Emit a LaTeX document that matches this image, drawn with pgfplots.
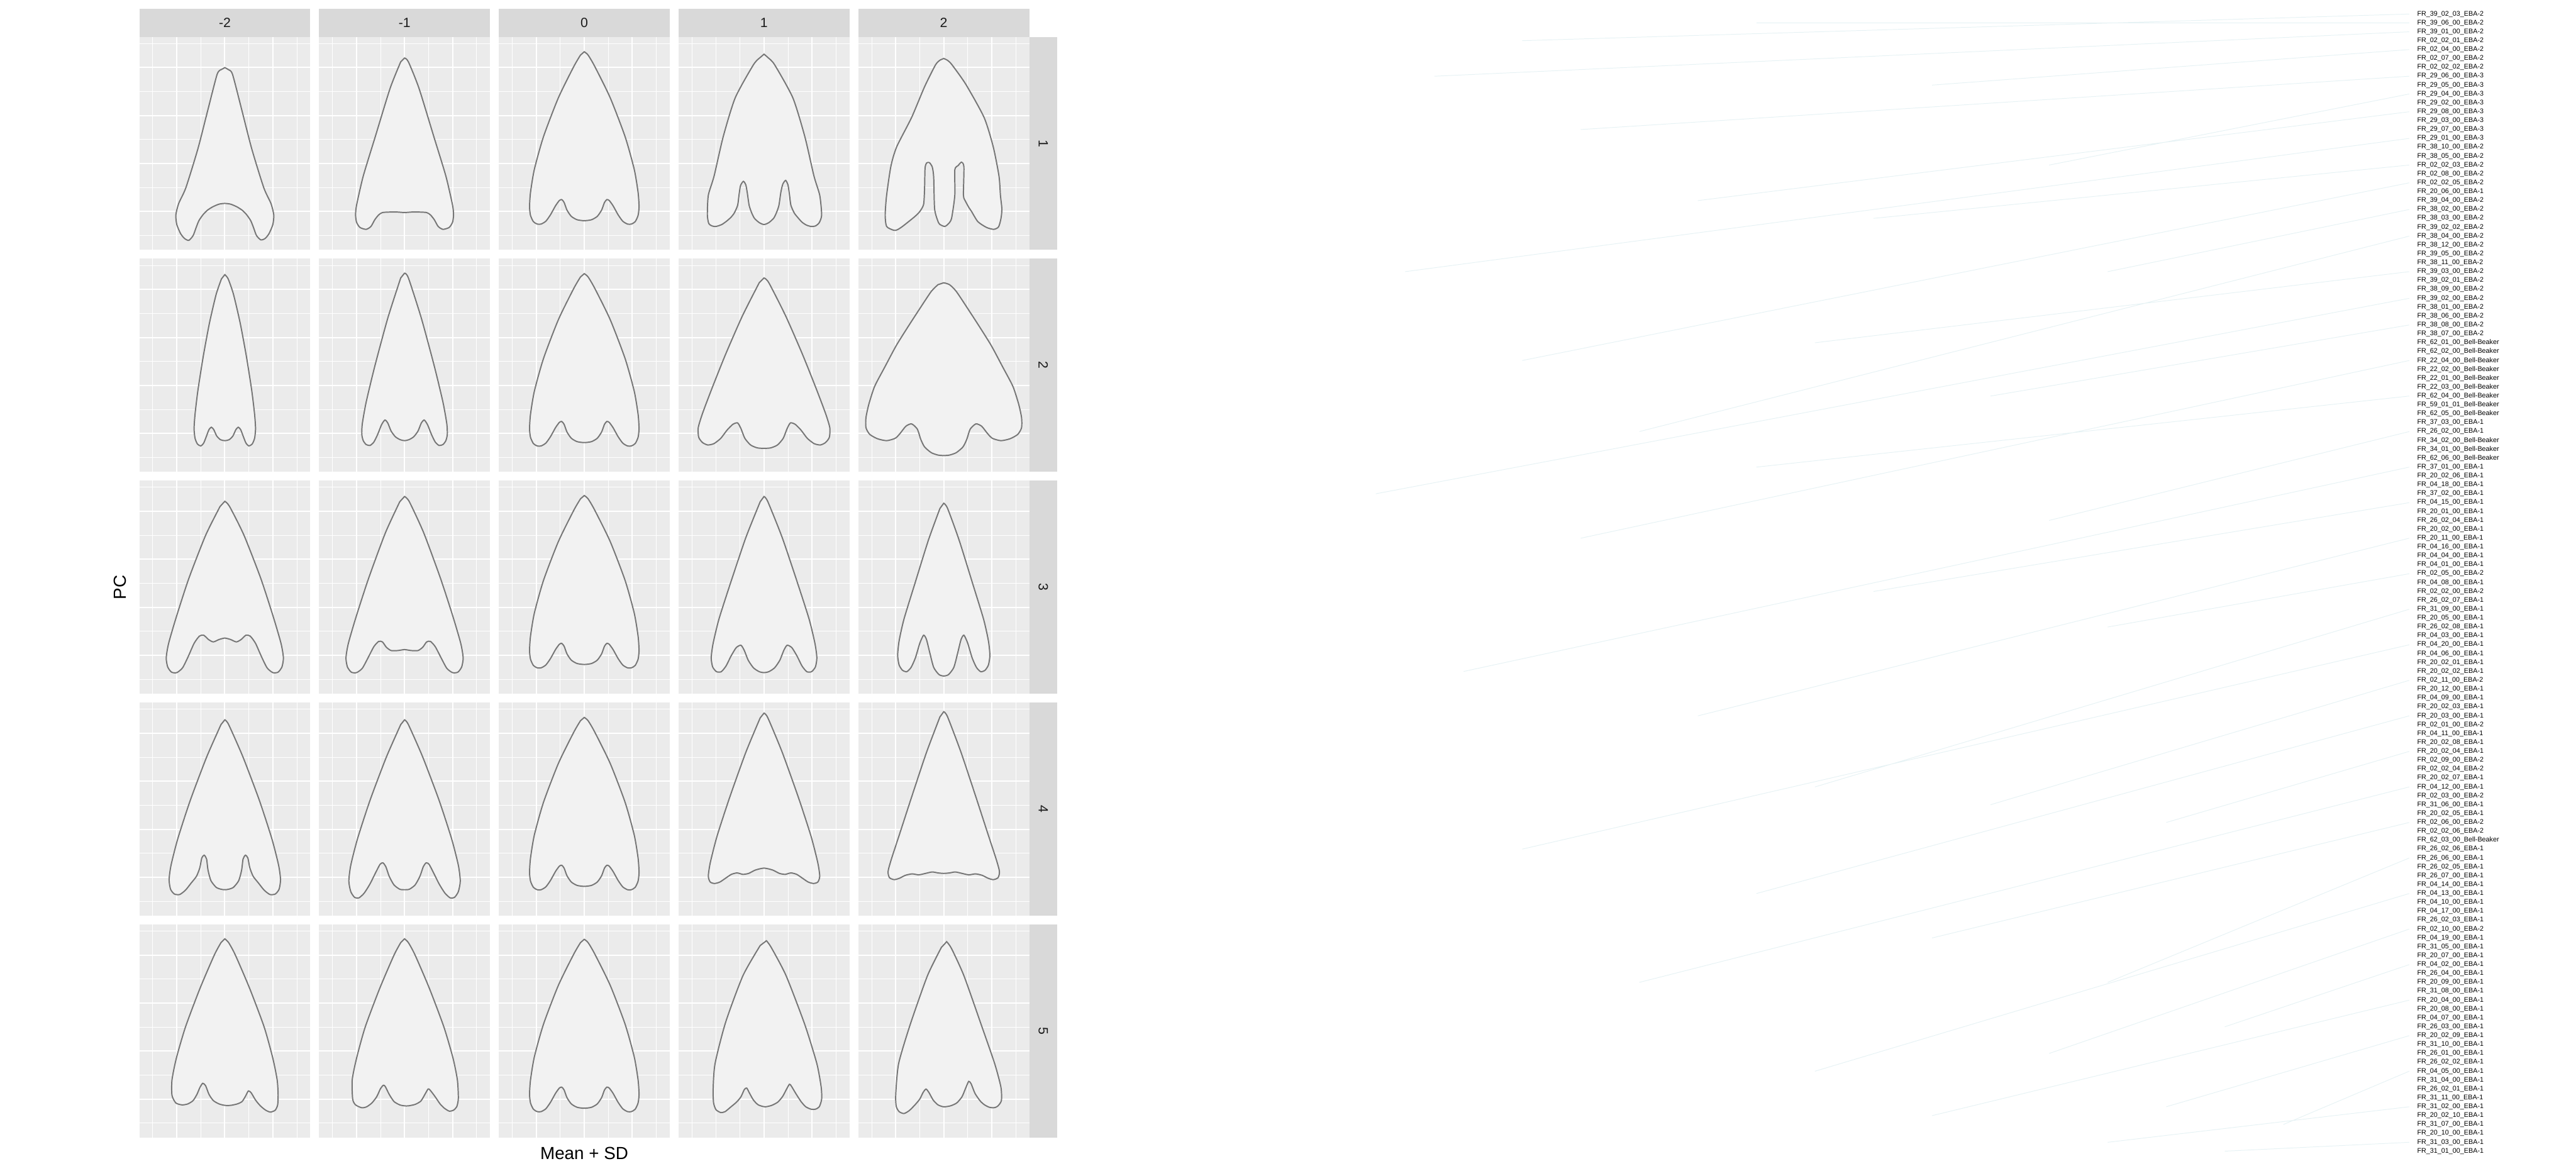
\documentclass[border=0pt]{standalone}
\usepackage{fontspec}
\setmainfont{Liberation Sans}
\usepackage{pgfplots}
\pgfplotsset{compat=1.18}
\definecolor{panelbg}{HTML}{EBEBEB}
\definecolor{stripbg}{HTML}{D9D9D9}
\definecolor{striptx}{HTML}{1A1A1A}
\definecolor{shpfill}{HTML}{F2F2F2}
\definecolor{shpline}{HTML}{767676}
\definecolor{faint}{RGB}{230,242,244}
\pgfplotsset{
 panel/.style={anchor=north west, width=29.2mm, height=36.4mm, scale only axis,
  xmin=-1.78, xmax=1.78, ymin=-0.80, ymax=3.64,
  xtick={-1,0,1}, ytick={0,1,2,3},
  minor xtick={-1.5,-0.5,0.5,1.5}, minor ytick={-0.5,0.5,1.5,2.5,3.5},
  xticklabels={}, yticklabels={},
  major tick length=0pt, minor tick length=0pt,
  grid=both,
  major grid style={draw=white, line width=0.6pt},
  minor grid style={draw=white, line width=0.3pt},
  axis line style={draw=none},
  axis background/.style={fill=panelbg}},
 shp/.style={draw=shpline, fill=shpfill, line width=0.6pt, smooth, tension=0.4, mark=none}
}
\newcommand{\shp}[1]{\addplot[shp] coordinates {#1} -- cycle;}
\newcommand{\panel}[3]{\begin{axis}[panel, at={(#1mm,#2mm)}]#3\end{axis}}
\newcommand{\meanplot}{\shp{(0,3.33) (0.08,3.26) (0.22,3.02) (0.54,2.37) (0.85,1.56) (1.04,0.88) (1.12,0.40) (1.14,0.10) (1.12,-0.08) (1.06,-0.21) (0.98,-0.26) (0.90,-0.26) (0.80,-0.20) (0.70,-0.06) (0.60,0.12) (0.52,0.23) (0.47,0.25) (0.42,0.19) (0.36,0.03) (0.27,-0.10) (0.15,-0.17) (0,-0.19)
 (-0.15,-0.17) (-0.27,-0.10) (-0.36,0.03) (-0.42,0.19) (-0.47,0.25) (-0.52,0.23) (-0.60,0.12) (-0.70,-0.06) (-0.80,-0.20) (-0.90,-0.26) (-0.98,-0.26) (-1.06,-0.21) (-1.12,-0.08) (-1.14,0.10) (-1.12,0.40) (-1.04,0.88) (-0.85,1.56) (-0.54,2.37) (-0.22,3.02) (-0.08,3.26)}}
\begin{document}
\begin{tikzpicture}
\useasboundingbox (0,0) rectangle (440mm,200mm);
% ---------- strips ----------
\foreach \x/\t in {23.8/-2,54.5/-1,85.2/0,115.9/1,146.6/2}{
 \fill[stripbg] (\x mm,193.7mm) rectangle ++(29.2mm,4.8mm);
 \node[text=striptx, font=\fontsize{6.5}{7}\selectfont] at (\x mm+14.6mm,196.1mm) {\t};}
\foreach \y/\t in {193.7/1,155.8/2,117.9/3,80.0/4,42.1/5}{
 \fill[stripbg] (175.8mm,\y mm-36.4mm) rectangle (180.6mm,\y mm);
 \node[text=striptx, rotate=-90, font=\fontsize{6.5}{7}\selectfont] at (178.2mm,\y mm-18.2mm) {\t};}
\node[font=\fontsize{8.5}{10}\selectfont] at (99.8mm,3.0mm) {Mean + SD};
\node[rotate=90, font=\fontsize{8.5}{10}\selectfont] at (20.5mm,99.7mm) {PC};
% ---------- PC1 ----------
\panel{23.8}{193.7}{\shp{(0,3.00) (0.07,2.96) (0.16,2.86) (0.35,2.13) (0.56,1.31) (0.81,0.50) (0.96,0.17) (1.02,-0.07) (1.00,-0.27) (0.92,-0.46) (0.84,-0.56) (0.75,-0.59) (0.66,-0.50) (0.60,-0.34) (0.54,-0.19) (0.45,-0.06) (0.36,0.03) (0.25,0.10) (0.12,0.155) (0,0.17) (-0.12,0.155) (-0.25,0.10) (-0.36,0.03) (-0.45,-0.06) (-0.54,-0.19) (-0.60,-0.34) (-0.66,-0.50) (-0.75,-0.60) (-0.84,-0.56) (-0.92,-0.46) (-1.00,-0.27) (-1.02,-0.07) (-0.96,0.17) (-0.81,0.50) (-0.56,1.31) (-0.35,2.13) (-0.16,2.86) (-0.07,2.96)}}
\panel{54.5}{193.7}{\shp{(0,3.20) (0.08,3.12) (0.30,2.57) (0.61,1.56) (0.86,0.74) (1.00,0.13) (1.02,-0.07) (1.00,-0.22) (0.93,-0.33) (0.80,-0.37) (0.70,-0.31) (0.62,-0.17) (0.54,-0.07) (0.46,-0.02) (0.30,-0.01) (0.15,-0.01) (0,-0.02) (-0.15,-0.01) (-0.30,-0.01) (-0.46,-0.02) (-0.54,-0.07) (-0.62,-0.17) (-0.70,-0.31) (-0.80,-0.37) (-0.93,-0.33) (-1.00,-0.22) (-1.02,-0.07) (-1.00,0.13) (-0.86,0.74) (-0.61,1.56) (-0.30,2.57) (-0.08,3.12)}}
\panel{85.2}{193.7}{\meanplot}
\panel{115.9}{193.7}{\shp{(0,3.28) (0.08,3.21) (0.22,3.06) (0.60,2.37) (0.85,1.56) (1.04,0.74) (1.16,0.34) (1.20,-0.07) (1.15,-0.23) (1.07,-0.30) (0.98,-0.31) (0.88,-0.28) (0.79,-0.22) (0.70,-0.12) (0.63,-0.03) (0.56,0.13) (0.53,0.35) (0.50,0.55) (0.45,0.65) (0.39,0.57) (0.35,0.40) (0.31,0.13) (0.26,-0.02) (0.20,-0.14) (0.10,-0.23) (0,-0.27) (-0.10,-0.23) (-0.20,-0.14) (-0.26,-0.02) (-0.31,0.13) (-0.35,0.40) (-0.38,0.56) (-0.43,0.63) (-0.49,0.54) (-0.52,0.35) (-0.55,0.13) (-0.62,-0.03) (-0.69,-0.12) (-0.78,-0.20) (-0.88,-0.27) (-1.00,-0.31) (-1.08,-0.30) (-1.15,-0.25) (-1.18,-0.07) (-1.16,0.34) (-1.04,0.74) (-0.85,1.56) (-0.60,2.37) (-0.22,3.06) (-0.08,3.21)}}
\panel{146.6}{193.7}{\shp{(0,3.19) (0.08,3.15) (0.17,3.06) (0.46,2.65) (0.84,1.96) (1.03,1.35) (1.15,0.74) (1.18,0.34) (1.21,0.05) (1.19,-0.15) (1.14,-0.32) (1.04,-0.37) (0.89,-0.33) (0.71,-0.21) (0.58,0.00) (0.52,0.09) (0.45,0.22) (0.41,0.34) (0.42,0.93) (0.37,1.03) (0.30,0.96) (0.23,0.87) (0.23,0.34) (0.16,-0.15) (0.08,-0.27) (0.02,-0.31) (-0.06,-0.28) (-0.11,-0.23) (-0.19,0.05) (-0.21,0.72) (-0.24,0.93) (-0.30,1.02) (-0.36,1.01) (-0.39,0.90) (-0.40,0.47) (-0.42,0.15) (-0.50,0.00) (-0.61,-0.11) (-0.86,-0.31) (-0.97,-0.38) (-1.04,-0.39) (-1.19,-0.31) (-1.22,-0.07) (-1.19,0.34) (-1.10,0.95) (-0.98,1.35) (-0.67,1.96) (-0.40,2.60) (-0.17,3.06) (-0.07,3.16)}}
% ---------- PC2 ----------
\panel{23.8}{155.8}{\shp{(0,3.31) (0.07,3.22) (0.18,2.90) (0.32,2.30) (0.45,1.60) (0.56,0.90) (0.62,0.40) (0.64,0.10) (0.62,-0.10) (0.57,-0.22) (0.50,-0.26) (0.44,-0.20) (0.38,-0.05) (0.33,0.08) (0.28,0.13) (0.23,0.08) (0.17,-0.05) (0.09,-0.13) (0,-0.15) (-0.09,-0.13) (-0.17,-0.05) (-0.23,0.08) (-0.28,0.13) (-0.33,0.08) (-0.38,-0.05) (-0.44,-0.20) (-0.50,-0.26) (-0.57,-0.22) (-0.62,-0.10) (-0.64,0.10) (-0.62,0.40) (-0.56,0.90) (-0.45,1.60) (-0.32,2.30) (-0.18,2.90) (-0.07,3.22)}}
\panel{54.5}{155.8}{\shp{(0,3.34) (0.08,3.24) (0.35,2.40) (0.62,1.40) (0.80,0.65) (0.88,0.20) (0.89,-0.02) (0.86,-0.15) (0.80,-0.23) (0.72,-0.25) (0.64,-0.18) (0.56,-0.02) (0.48,0.18) (0.41,0.28) (0.35,0.22) (0.28,0.05) (0.19,-0.07) (0.09,-0.13) (0,-0.15) (-0.09,-0.13) (-0.19,-0.07) (-0.28,0.05) (-0.35,0.22) (-0.41,0.28) (-0.48,0.18) (-0.56,-0.02) (-0.64,-0.18) (-0.72,-0.25) (-0.80,-0.23) (-0.86,-0.15) (-0.89,-0.02) (-0.88,0.20) (-0.80,0.65) (-0.62,1.40) (-0.35,2.40) (-0.08,3.24)}}
\panel{85.2}{155.8}{\meanplot}
\panel{115.9}{155.8}{\shp{(0,3.24) (0.10,3.14) (0.45,2.45) (0.80,1.65) (1.08,0.95) (1.28,0.42) (1.37,0.12) (1.36,-0.08) (1.28,-0.19) (1.17,-0.24) (1.04,-0.21) (0.90,-0.10) (0.77,0.07) (0.65,0.19) (0.55,0.22) (0.48,0.10) (0.40,-0.10) (0.28,-0.24) (0.14,-0.30) (0,-0.31) (-0.14,-0.30) (-0.28,-0.24) (-0.40,-0.10) (-0.48,0.10) (-0.55,0.22) (-0.65,0.19) (-0.77,0.07) (-0.90,-0.10) (-1.04,-0.21) (-1.17,-0.24) (-1.28,-0.19) (-1.36,-0.08) (-1.37,0.12) (-1.28,0.42) (-1.08,0.95) (-0.80,1.65) (-0.45,2.45) (-0.10,3.14)}}
\panel{146.6}{155.8}{\shp{(0,3.14) (0.12,3.10) (0.26,2.96) (0.50,2.60) (0.74,2.23) (0.99,1.83) (1.23,1.38) (1.44,0.98) (1.56,0.61) (1.62,0.33) (1.62,0.12) (1.54,-0.02) (1.38,-0.11) (1.19,-0.15) (1.01,-0.10) (0.91,0.00) (0.79,0.15) (0.67,0.20) (0.55,0.09) (0.48,-0.12) (0.40,-0.28) (0.26,-0.40) (0.12,-0.45) (0,-0.46) (-0.12,-0.45) (-0.26,-0.40) (-0.40,-0.28) (-0.48,-0.12) (-0.55,0.09) (-0.67,0.20) (-0.79,0.15) (-0.91,0.00) (-1.01,-0.10) (-1.19,-0.15) (-1.38,-0.11) (-1.54,-0.02) (-1.62,0.12) (-1.62,0.33) (-1.56,0.61) (-1.44,0.98) (-1.23,1.38) (-0.99,1.83) (-0.74,2.23) (-0.50,2.60) (-0.26,2.96) (-0.12,3.10)}}
% ---------- PC3 ----------
\panel{23.8}{117.9}{\shp{(0,3.21) (0.10,3.10) (0.40,2.50) (0.75,1.60) (1.01,0.80) (1.17,0.25) (1.22,-0.05) (1.19,-0.24) (1.11,-0.35) (1.00,-0.36) (0.88,-0.26) (0.76,-0.02) (0.64,0.25) (0.53,0.40) (0.44,0.42) (0.34,0.33) (0.24,0.28) (0.12,0.33) (0,0.36) (-0.12,0.33) (-0.24,0.28) (-0.34,0.33) (-0.44,0.42) (-0.53,0.40) (-0.64,0.25) (-0.76,-0.02) (-0.88,-0.26) (-1.00,-0.36) (-1.11,-0.35) (-1.19,-0.24) (-1.22,-0.05) (-1.17,0.25) (-1.01,0.80) (-0.75,1.60) (-0.40,2.50) (-0.10,3.10)}}
\panel{54.5}{117.9}{\shp{(0,3.31) (0.10,3.20) (0.40,2.55) (0.75,1.60) (1.01,0.80) (1.17,0.25) (1.22,-0.05) (1.19,-0.24) (1.11,-0.35) (1.00,-0.36) (0.88,-0.27) (0.76,-0.05) (0.64,0.18) (0.54,0.29) (0.46,0.28) (0.38,0.17) (0.28,0.10) (0.14,0.10) (0,0.12) (-0.14,0.10) (-0.28,0.10) (-0.38,0.17) (-0.46,0.28) (-0.54,0.29) (-0.64,0.18) (-0.76,-0.05) (-0.88,-0.27) (-1.00,-0.36) (-1.11,-0.35) (-1.19,-0.24) (-1.22,-0.05) (-1.17,0.25) (-1.01,0.80) (-0.75,1.60) (-0.40,2.55) (-0.10,3.20)}}
\panel{85.2}{117.9}{\meanplot}
\panel{115.9}{117.9}{\shp{(0,3.31) (0.08,3.20) (0.38,2.45) (0.70,1.50) (0.94,0.75) (1.06,0.25) (1.10,-0.05) (1.07,-0.24) (0.99,-0.34) (0.89,-0.34) (0.79,-0.22) (0.69,-0.02) (0.58,0.16) (0.48,0.21) (0.41,0.10) (0.33,-0.10) (0.22,-0.26) (0.10,-0.34) (0,-0.36) (-0.10,-0.34) (-0.22,-0.26) (-0.33,-0.10) (-0.41,0.10) (-0.48,0.21) (-0.58,0.16) (-0.69,-0.02) (-0.79,-0.22) (-0.89,-0.34) (-0.99,-0.34) (-1.07,-0.24) (-1.10,-0.05) (-1.06,0.25) (-0.94,0.75) (-0.70,1.50) (-0.38,2.45) (-0.08,3.20)}}
\panel{146.6}{117.9}{\shp{(0,3.17) (0.08,3.06) (0.32,2.40) (0.60,1.50) (0.83,0.75) (0.93,0.30) (0.96,0.00) (0.93,-0.20) (0.86,-0.31) (0.77,-0.34) (0.68,-0.25) (0.59,-0.05) (0.50,0.25) (0.42,0.42) (0.36,0.33) (0.29,0.05) (0.21,-0.25) (0.10,-0.40) (0,-0.43) (-0.10,-0.40) (-0.21,-0.25) (-0.29,0.05) (-0.36,0.33) (-0.42,0.42) (-0.50,0.25) (-0.59,-0.05) (-0.68,-0.25) (-0.77,-0.34) (-0.86,-0.31) (-0.93,-0.20) (-0.96,0.00) (-0.93,0.30) (-0.83,0.75) (-0.60,1.50) (-0.32,2.40) (-0.08,3.06)}}
% ---------- PC4 ----------
\panel{23.8}{80.0}{\shp{(0,3.28) (0.08,3.18) (0.38,2.50) (0.72,1.60) (0.98,0.80) (1.12,0.25) (1.16,-0.05) (1.13,-0.25) (1.05,-0.35) (0.94,-0.36) (0.82,-0.27) (0.70,-0.12) (0.59,0.02) (0.52,0.20) (0.48,0.40) (0.43,0.46) (0.38,0.38) (0.35,0.15) (0.29,-0.07) (0.18,-0.21) (0.08,-0.25) (0,-0.26) (-0.08,-0.25) (-0.18,-0.21) (-0.29,-0.07) (-0.35,0.15) (-0.38,0.38) (-0.43,0.46) (-0.48,0.40) (-0.52,0.20) (-0.59,0.02) (-0.70,-0.12) (-0.82,-0.27) (-0.94,-0.36) (-1.05,-0.35) (-1.13,-0.25) (-1.16,-0.05) (-1.12,0.25) (-0.98,0.80) (-0.72,1.60) (-0.38,2.50) (-0.08,3.18)}}
\panel{54.5}{80.0}{\shp{(0,3.28) (0.08,3.18) (0.38,2.50) (0.72,1.60) (0.98,0.80) (1.12,0.25) (1.16,-0.08) (1.12,-0.30) (1.04,-0.42) (0.95,-0.43) (0.84,-0.33) (0.72,-0.14) (0.60,0.10) (0.51,0.27) (0.45,0.30) (0.39,0.22) (0.32,0.02) (0.22,-0.16) (0.10,-0.25) (0,-0.26) (-0.10,-0.25) (-0.22,-0.16) (-0.32,0.02) (-0.39,0.22) (-0.45,0.30) (-0.51,0.27) (-0.60,0.10) (-0.72,-0.14) (-0.84,-0.33) (-0.95,-0.43) (-1.04,-0.42) (-1.12,-0.30) (-1.16,-0.08) (-1.12,0.25) (-0.98,0.80) (-0.72,1.60) (-0.38,2.50) (-0.08,3.18)}}
\panel{85.2}{80.0}{\meanplot}
\panel{115.9}{80.0}{\shp{(0,3.42) (0.08,3.32) (0.38,2.60) (0.72,1.65) (0.98,0.85) (1.12,0.30) (1.16,0.02) (1.12,-0.10) (1.03,-0.13) (0.92,-0.10) (0.80,-0.02) (0.68,0.06) (0.56,0.09) (0.44,0.06) (0.32,0.08) (0.18,0.15) (0,0.19) (-0.18,0.15) (-0.32,0.08) (-0.44,0.06) (-0.56,0.09) (-0.68,0.06) (-0.80,-0.02) (-0.92,-0.10) (-1.03,-0.13) (-1.12,-0.10) (-1.16,0.02) (-1.12,0.30) (-0.98,0.85) (-0.72,1.65) (-0.38,2.60) (-0.08,3.32)}}
\panel{146.6}{80.0}{\shp{(0,3.45) (0.08,3.34) (0.36,2.60) (0.66,1.70) (0.92,0.90) (1.09,0.38) (1.16,0.12) (1.13,-0.01) (1.03,-0.05) (0.92,-0.02) (0.80,0.04) (0.66,0.07) (0.52,0.05) (0.38,0.08) (0.24,0.11) (0.12,0.09) (0,0.08) (-0.12,0.09) (-0.24,0.11) (-0.38,0.08) (-0.52,0.05) (-0.66,0.07) (-0.80,0.04) (-0.92,-0.02) (-1.03,-0.05) (-1.13,-0.01) (-1.16,0.12) (-1.09,0.38) (-0.92,0.90) (-0.66,1.70) (-0.36,2.60) (-0.08,3.34)}}
% ---------- PC5 ----------
\panel{23.8}{42.1}{\shp{(0,3.34) (0.08,3.26) (0.22,3.00) (0.52,2.30) (0.82,1.50) (1.00,0.85) (1.09,0.40) (1.11,0.09) (1.10,-0.12) (1.05,-0.23) (0.95,-0.27) (0.85,-0.23) (0.74,-0.14) (0.64,-0.02) (0.55,0.13) (0.49,0.17) (0.43,0.06) (0.36,-0.05) (0.26,-0.10) (0.12,-0.13) (0,-0.13) (-0.12,-0.10) (-0.24,-0.03) (-0.33,0.10) (-0.40,0.28) (-0.46,0.33) (-0.52,0.24) (-0.58,0.10) (-0.66,-0.03) (-0.77,-0.10) (-0.89,-0.12) (-1.02,-0.08) (-1.10,0.08) (-1.10,0.40) (-1.01,0.85) (-0.82,1.50) (-0.52,2.30) (-0.22,3.00) (-0.08,3.26)}}
\panel{54.5}{42.1}{\shp{(0,3.34) (0.08,3.26) (0.22,3.00) (0.52,2.30) (0.82,1.50) (1.01,0.85) (1.10,0.40) (1.12,0.02) (1.09,-0.15) (1.02,-0.23) (0.93,-0.25) (0.83,-0.19) (0.74,-0.10) (0.63,0.06) (0.53,0.19) (0.49,0.21) (0.43,0.11) (0.34,-0.04) (0.22,-0.11) (0.08,-0.14) (0,-0.14) (-0.10,-0.12) (-0.22,-0.05) (-0.32,0.10) (-0.40,0.26) (-0.44,0.29) (-0.50,0.22) (-0.58,0.05) (-0.68,-0.08) (-0.79,-0.16) (-0.89,-0.18) (-1.02,-0.12) (-1.08,0.00) (-1.09,0.40) (-1.00,0.85) (-0.82,1.50) (-0.52,2.30) (-0.22,3.00) (-0.08,3.26)}}
\panel{85.2}{42.1}{\meanplot}
\panel{115.9}{42.1}{\shp{(0.05,3.30) (0.15,3.16) (0.46,2.57) (0.85,1.55) (1.10,0.74) (1.19,0.25) (1.20,0.00) (1.15,-0.16) (1.07,-0.21) (0.98,-0.21) (0.87,-0.16) (0.77,-0.05) (0.66,0.12) (0.57,0.27) (0.53,0.31) (0.47,0.21) (0.39,0.06) (0.29,-0.06) (0.16,-0.13) (0.02,-0.16) (-0.12,-0.12) (-0.22,-0.02) (-0.30,0.12) (-0.36,0.23) (-0.41,0.20) (-0.48,0.05) (-0.57,-0.06) (-0.70,-0.17) (-0.81,-0.26) (-0.90,-0.28) (-1.00,-0.22) (-1.05,-0.08) (-1.06,0.20) (-1.02,0.74) (-0.80,1.60) (-0.44,2.57) (-0.08,3.20)}}
\panel{146.6}{42.1}{\shp{(0.06,3.28) (0.16,3.14) (0.42,2.57) (0.78,1.55) (1.06,0.74) (1.19,0.25) (1.20,-0.03) (1.12,-0.15) (1.04,-0.18) (0.95,-0.17) (0.85,-0.12) (0.76,-0.04) (0.65,0.12) (0.57,0.32) (0.52,0.37) (0.46,0.24) (0.38,0.05) (0.27,-0.08) (0.14,-0.14) (0.0,-0.16) (-0.12,-0.12) (-0.22,-0.02) (-0.31,0.14) (-0.37,0.21) (-0.43,0.14) (-0.50,0.00) (-0.60,-0.12) (-0.72,-0.24) (-0.83,-0.30) (-0.93,-0.26) (-0.99,-0.15) (-1.00,0.10) (-0.94,0.74) (-0.70,1.55) (-0.34,2.57) (-0.05,3.16)}}
% ---------- label column with faint lines ----------
\begin{axis}[at={(190mm,1.85mm)}, anchor=south west, width=222.4mm, height=197.27mm, scale only axis,
 xmin=1900, xmax=4124, ymin=0, ymax=130, y dir=reverse,
 axis line style={draw=none}, xtick=\empty, ytick={1,...,129}, yticklabel pos=right,
 major tick length=0pt,
 yticklabel style={font=\fontsize{3.3}{3.6}\selectfont, inner sep=0pt, anchor=west, xshift=0.4mm},
 yticklabels={FR\_39\_02\_03\_EBA-2,FR\_39\_06\_00\_EBA-2,FR\_39\_01\_00\_EBA-2,FR\_02\_02\_01\_EBA-2,FR\_02\_04\_00\_EBA-2,FR\_02\_07\_00\_EBA-2,FR\_02\_02\_02\_EBA-2,FR\_29\_06\_00\_EBA-3,FR\_29\_05\_00\_EBA-3,FR\_29\_04\_00\_EBA-3,FR\_29\_02\_00\_EBA-3,FR\_29\_08\_00\_EBA-3,FR\_29\_03\_00\_EBA-3,FR\_29\_07\_00\_EBA-3,FR\_29\_01\_00\_EBA-3,FR\_38\_10\_00\_EBA-2,FR\_38\_05\_00\_EBA-2,FR\_02\_02\_03\_EBA-2,FR\_02\_08\_00\_EBA-2,FR\_02\_02\_05\_EBA-2,FR\_20\_06\_00\_EBA-1,FR\_39\_04\_00\_EBA-2,FR\_38\_02\_00\_EBA-2,FR\_38\_03\_00\_EBA-2,FR\_39\_02\_02\_EBA-2,FR\_38\_04\_00\_EBA-2,FR\_38\_12\_00\_EBA-2,FR\_39\_05\_00\_EBA-2,FR\_38\_11\_00\_EBA-2,FR\_39\_03\_00\_EBA-2,FR\_39\_02\_01\_EBA-2,FR\_38\_09\_00\_EBA-2,FR\_39\_02\_00\_EBA-2,FR\_38\_01\_00\_EBA-2,FR\_38\_06\_00\_EBA-2,FR\_38\_08\_00\_EBA-2,FR\_38\_07\_00\_EBA-2,FR\_62\_01\_00\_Bell-Beaker,FR\_62\_02\_00\_Bell-Beaker,FR\_22\_04\_00\_Bell-Beaker,FR\_22\_02\_00\_Bell-Beaker,FR\_22\_01\_00\_Bell-Beaker,FR\_22\_03\_00\_Bell-Beaker,FR\_62\_04\_00\_Bell-Beaker,FR\_59\_01\_01\_Bell-Beaker,FR\_62\_05\_00\_Bell-Beaker,FR\_37\_03\_00\_EBA-1,FR\_26\_02\_00\_EBA-1,FR\_34\_02\_00\_Bell-Beaker,FR\_34\_01\_00\_Bell-Beaker,FR\_62\_06\_00\_Bell-Beaker,FR\_37\_01\_00\_EBA-1,FR\_20\_02\_06\_EBA-1,FR\_04\_18\_00\_EBA-1,FR\_37\_02\_00\_EBA-1,FR\_04\_15\_00\_EBA-1,FR\_20\_01\_00\_EBA-1,FR\_26\_02\_04\_EBA-1,FR\_20\_02\_00\_EBA-1,FR\_20\_11\_00\_EBA-1,FR\_04\_16\_00\_EBA-1,FR\_04\_04\_00\_EBA-1,FR\_04\_01\_00\_EBA-1,FR\_02\_05\_00\_EBA-2,FR\_04\_08\_00\_EBA-1,FR\_02\_02\_00\_EBA-2,FR\_26\_02\_07\_EBA-1,FR\_31\_09\_00\_EBA-1,FR\_20\_05\_00\_EBA-1,FR\_26\_02\_08\_EBA-1,FR\_04\_03\_00\_EBA-1,FR\_04\_20\_00\_EBA-1,FR\_04\_06\_00\_EBA-1,FR\_20\_02\_01\_EBA-1,FR\_20\_02\_02\_EBA-1,FR\_02\_11\_00\_EBA-2,FR\_20\_12\_00\_EBA-1,FR\_04\_09\_00\_EBA-1,FR\_20\_02\_03\_EBA-1,FR\_20\_03\_00\_EBA-1,FR\_02\_01\_00\_EBA-2,FR\_04\_11\_00\_EBA-1,FR\_20\_02\_08\_EBA-1,FR\_20\_02\_04\_EBA-1,FR\_02\_09\_00\_EBA-2,FR\_02\_02\_04\_EBA-2,FR\_20\_02\_07\_EBA-1,FR\_04\_12\_00\_EBA-1,FR\_02\_03\_00\_EBA-2,FR\_31\_06\_00\_EBA-1,FR\_20\_02\_05\_EBA-1,FR\_02\_06\_00\_EBA-2,FR\_02\_02\_06\_EBA-2,FR\_62\_03\_00\_Bell-Beaker,FR\_26\_02\_06\_EBA-1,FR\_26\_06\_00\_EBA-1,FR\_26\_02\_05\_EBA-1,FR\_26\_07\_00\_EBA-1,FR\_04\_14\_00\_EBA-1,FR\_04\_13\_00\_EBA-1,FR\_04\_10\_00\_EBA-1,FR\_04\_17\_00\_EBA-1,FR\_26\_02\_03\_EBA-1,FR\_02\_10\_00\_EBA-2,FR\_04\_19\_00\_EBA-1,FR\_31\_05\_00\_EBA-1,FR\_20\_07\_00\_EBA-1,FR\_04\_02\_00\_EBA-1,FR\_26\_04\_00\_EBA-1,FR\_20\_09\_00\_EBA-1,FR\_31\_08\_00\_EBA-1,FR\_20\_04\_00\_EBA-1,FR\_20\_08\_00\_EBA-1,FR\_04\_07\_00\_EBA-1,FR\_26\_03\_00\_EBA-1,FR\_20\_02\_09\_EBA-1,FR\_31\_10\_00\_EBA-1,FR\_26\_01\_00\_EBA-1,FR\_26\_02\_02\_EBA-1,FR\_04\_05\_00\_EBA-1,FR\_31\_04\_00\_EBA-1,FR\_26\_02\_01\_EBA-1,FR\_31\_11\_00\_EBA-1,FR\_31\_02\_00\_EBA-1,FR\_20\_02\_10\_EBA-1,FR\_31\_07\_00\_EBA-1,FR\_20\_10\_00\_EBA-1,FR\_31\_03\_00\_EBA-1,FR\_31\_01\_00\_EBA-1}]
\addplot[faint, line width=0.3pt, unbounded coords=jump, mark=none] coordinates {
(4115,1) (2600,4) (nan,nan) (4115,2) (3000,2) (nan,nan) (4115,3) (2450,8) (nan,nan)
(4115,5) (3300,9) (nan,nan) (4115,8) (2700,14) (nan,nan) (4115,10) (3500,18) (nan,nan)
(4115,12) (2900,22) (nan,nan) (4115,15) (2400,30) (nan,nan) (4115,18) (3200,24) (nan,nan)
(4115,20) (2600,40) (nan,nan) (4115,23) (3600,30) (nan,nan) (4115,26) (2800,48) (nan,nan)
(4115,30) (3100,38) (nan,nan) (4115,33) (2350,55) (nan,nan) (4115,36) (3400,44) (nan,nan)
(4115,40) (2700,60) (nan,nan) (4115,44) (3000,52) (nan,nan) (4115,48) (3500,58) (nan,nan)
(4115,52) (2500,75) (nan,nan) (4115,56) (3200,66) (nan,nan) (4115,60) (2900,80) (nan,nan)
(4115,64) (3600,70) (nan,nan) (4115,68) (3100,88) (nan,nan) (4115,72) (2600,95) (nan,nan)
(4115,76) (3400,90) (nan,nan) (4115,80) (3000,100) (nan,nan) (4115,84) (3700,92) (nan,nan)
(4115,88) (2800,110) (nan,nan) (4115,92) (3300,105) (nan,nan) (4115,96) (3600,110) (nan,nan)
(4115,100) (3100,120) (nan,nan) (4115,104) (3500,118) (nan,nan) (4115,108) (3800,115) (nan,nan)
(4115,112) (3300,125) (nan,nan) (4115,116) (3700,124) (nan,nan) (4115,120) (3900,126) (nan,nan)
(4115,124) (3600,128) (nan,nan) (4115,128) (3800,129)};
\end{axis}
\end{tikzpicture}
\end{document}
